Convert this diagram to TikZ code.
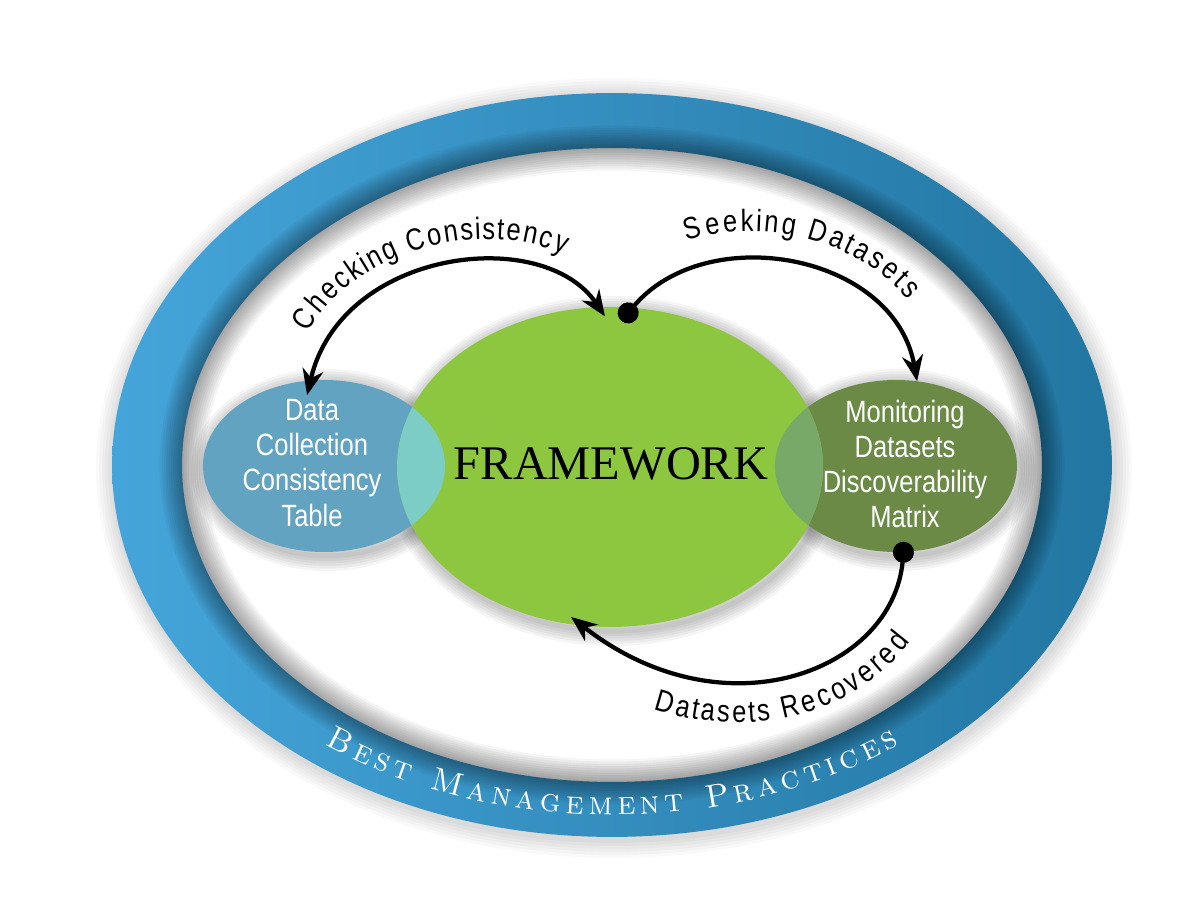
\documentclass[tikz,border=0pt]{standalone}
\usepackage{fontspec}
\newfontfamily\condsans[FakeStretch=0.83]{Liberation Sans}
\newfontfamily\hubserif{Liberation Serif}
\usetikzlibrary{arrows.meta, shapes.geometric, decorations.text, calc}
\definecolor{ringleft}{HTML}{45A5DA}
\definecolor{ringright}{HTML}{2276A2}
\definecolor{fwgreen}{HTML}{8DC63F}
\definecolor{dcblue}{HTML}{62A3C2}
\definecolor{mdmgreen}{HTML}{6A8A46}
\definecolor{lapblue}{HTML}{7CCDC6}
\definecolor{lapgreen}{HTML}{78A968}
\newcommand{\arclabelfont}{\condsans\fontsize{17.5}{20}\selectfont}
\pgfdeclarelayer{back}
\pgfsetlayers{back,main}

\begin{document}
\begin{tikzpicture}[x=0.02cm, y=0.02cm,
		hub/.style={ellipse, fill=fwgreen, minimum width=8.52cm, minimum height=6.4cm,
			inner sep=0pt, outer sep=0pt},
		side/.style={ellipse, minimum width=4.84cm, minimum height=3.44cm,
			inner sep=0pt, outer sep=0pt},
		intext/.style={text=white, align=center, font=\condsans\fontsize{17.5}{20}\selectfont},
		arrow/.style={line width=0.085cm, -{Stealth[length=0.52cm, width=0.42cm, inset=0.17cm]}},
		dotarrow/.style={line width=0.085cm,
			{Circle[length=0.42cm]}-{Stealth[length=0.52cm, width=0.42cm, inset=0.17cm]}},
		]
		\useasboundingbox (0,0) rectangle (1200,900);
		\coordinate (ctr) at (612,435);
		
		%% ── ELLIPSES ───────────────────────────────────────────
		\node[side, fill=dcblue]   (dc)  at (324,434) {};
		\node[side, fill=mdmgreen] (mdm) at (896,434) {};
		\node[hub]                 (fw)  at (610,433) {};
		
		% overlaps
		\begin{scope}
			\clip (fw.center) ellipse[x radius=4.26cm, y radius=3.2cm];
			\fill[lapblue]  (dc.center)  ellipse[x radius=2.42cm, y radius=1.72cm];
			\fill[lapgreen] (mdm.center) ellipse[x radius=2.42cm, y radius=1.72cm];
		\end{scope}
		
		\node[intext] (dctext)  at (312,437) {Data\\Collection\\Consistency\\Table};
		\node[intext] (mdmtext) at (905,436) {Monitoring\\Datasets\\Discoverability\\Matrix};
		\node[font=\hubserif\fontsize{27.5}{30}\selectfont] (fwtext) at (611,436) {FRAMEWORK};
		
		%% ── ARROWS ─────────────────────────────────────────────
		\draw[arrow, {Stealth[length=0.52cm, width=0.42cm, inset=0.17cm]}-{Stealth[length=0.52cm, width=0.42cm, inset=0.17cm]},
			shorten <=-0.3cm, shorten >=-0.22cm]
			(dc.99) .. controls +(77:135) and +(124:100) .. (fw.94);
		\draw[dotarrow, shorten <=-0.34cm]
			(fw.82) .. controls +(50:115) and +(100:130) .. (mdm.76);
		\draw[dotarrow, shorten <=-0.2cm, shorten >=-0.28cm]
			(mdm.275) .. controls +(-95:120) and +(322:180) .. (fw.260);
		
		% labels along the arrows
		\path[decorate, decoration={text along path, raise=0.4cm,
				text align={fit to path, left indent=0.8cm, right indent=1.1cm},
				text={|\arclabelfont|Checking Consistency}}]
			(dc.99) .. controls +(77:135) and +(124:100) .. (fw.94);
		\path[decorate, decoration={text along path, raise=0.55cm,
				text align={fit to path, left indent=1.5cm, right indent=1.4cm},
				text={|\arclabelfont|Seeking Datasets}}]
			(fw.82) .. controls +(50:115) and +(100:130) .. (mdm.76);
		\path[decorate, decoration={text along path, raise=-0.8cm,
				text align={fit to path, left indent=1.9cm, right indent=1.4cm},
				text={|\arclabelfont|Datasets Recovered}}]
			(fw.260) .. controls +(322:180) and +(-95:120) .. (mdm.275);
		
		%% ── RING ───────────────────────────────────────────────
		\begin{pgfonlayer}{back}
			\fill[white] (0,0) rectangle (1200,900);
			% soft shadow outside
			\foreach \k in {1,...,6}
			\draw[black, opacity=0.025, line width=\k*0.12cm]
				([shift={(2,-3)}]ctr) ellipse[x radius=10cm, y radius=7.44cm];
			\path[left color=ringleft, right color=ringright, even odd rule]
				(ctr) ellipse[x radius=10cm, y radius=7.44cm]
				(ctr) ellipse[x radius=8.6cm, y radius=6.34cm];
			% shadow along the inner edge
			\begin{scope}
				\clip (ctr) ellipse[x radius=10cm, y radius=7.44cm];
				\foreach \k in {1,...,10}
				\draw[black, opacity=0.04, line width=\k*0.09cm]
					(ctr) ellipse[x radius=8.6cm, y radius=6.34cm];
			\end{scope}
			% halos under the ellipses
			\foreach \k in {1,...,6}
			{
				\draw[black, opacity=0.04, line width=\k*0.1cm]
					([shift={(3,-4)}]fw.center) ellipse[x radius=4.26cm, y radius=3.2cm];
				\draw[black, opacity=0.04, line width=\k*0.1cm]
					([shift={(3,-4)}]dc.center) ellipse[x radius=2.42cm, y radius=1.72cm];
				\draw[black, opacity=0.04, line width=\k*0.1cm]
					([shift={(3,-4)}]mdm.center) ellipse[x radius=2.42cm, y radius=1.72cm];
			}
		\end{pgfonlayer}
		
		\path[decorate, decoration={text along path, text color=white,
				text align={fit to path},
				text={|\rmfamily\scshape\fontsize{18.5}{20}\selectfont|Best Management Practices}}]
			($(ctr)+(233:9.56cm and 7cm)$) arc[start angle=233, end angle=307,
				x radius=9.56cm, y radius=7cm];
		
	\end{tikzpicture}
\end{document}
